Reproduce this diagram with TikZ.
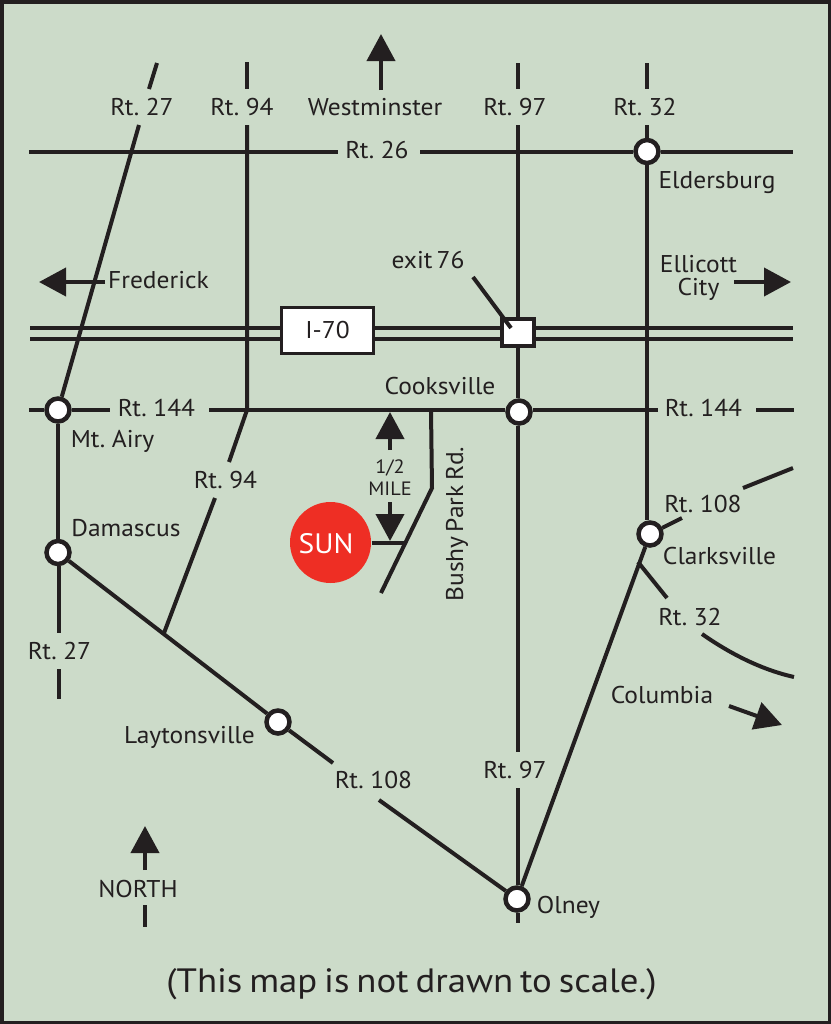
\documentclass[tikz,border=0pt]{standalone}
\usepackage{fontspec}
\setmainfont[FakeStretch=1.05,WordSpace=.62]{PT Sans}
\newfontfamily\notefont[FakeStretch=1.09,WordSpace=.7]{PT Sans}
\usetikzlibrary{arrows.meta}
\definecolor{mapgreen}{HTML}{CCDBC9}
\definecolor{mapdark}{HTML}{231F20}
\definecolor{mapred}{HTML}{EE2E24}
\newcommand{\lblfont}{\fontsize{6.9}{8}\selectfont}

\begin{document}
\begin{tikzpicture}[
  x=1cm, y=-1cm,
  every node/.style={inner sep=0pt},
  road/.style={draw=mapdark, line width=.04cm},
  lbl/.style={anchor=base, font=\lblfont, text=mapdark},
  smalllbl/.style={anchor=base, font=\fontsize{5.5}{6}\selectfont, text=mapdark},
  junction/.style={circle, draw=mapdark, fill=white, line width=.045cm, minimum size=.23cm},
  maparrow/.style={road, -{Triangle[length=.27cm,width=.28cm]}},
]
\useasboundingbox (0,0) rectangle (8.31,10.24);
\draw[draw=mapdark, fill=mapgreen, line width=.035cm] (.0175,.0175) rectangle (8.2925,10.2225);

% I-70 runs under its boxes
\coordinate (iaw) at (.30,3.28);
\coordinate (iae) at (7.93,3.28);
\coordinate (ibw) at (.30,3.39);
\coordinate (ibe) at (7.93,3.39);
\draw[road, line width=.035cm] (iaw) -- (iae);
\draw[road, line width=.035cm] (ibw) -- (ibe);

% Rt. 97 and the minor crossings under the exit box
\node[draw=mapdark, fill=white, line width=.035cm, minimum width=.92cm, minimum height=.46cm, font=\lblfont, text=mapdark] (ibox) at (3.275,3.305) {I-70};
\node[draw=mapdark, fill=white, line width=.04cm, minimum width=.32cm, minimum height=.27cm] (exitbox) at (5.18,3.325) {};

% Junctions
\node[junction] (airy) at (.58,4.10) {};
\node[junction] (damascus) at (.58,5.525) {};
\node[junction] (layton) at (2.78,7.22) {};
\node[junction] (olney) at (5.17,8.99) {};
\node[junction] (cooks) at (5.19,4.12) {};
\node[junction] (clarks) at (6.50,5.34) {};
\node[junction] (elders) at (6.47,1.515) {};
\node[circle, fill=mapred, minimum size=.81cm] (sun) at (3.305,5.425) {};
\node[anchor=base, font=\fontsize{8}{10}\selectfont, text=white] (sunlbl) at (3.26,5.53) {SUN};

% Rt. 26
\coordinate (r26w) at (.29,1.515);
\coordinate (r26m) at (3.38,1.515);
\coordinate (r26n) at (4.20,1.515);
\coordinate (r26e) at (7.93,1.515);
\draw[road] (r26w) -- (r26m);
\draw[road] (r26n) -- (elders);
\draw[road] (elders) -- (r26e);

% Rt. 144
\coordinate (r144w) at (.29,4.10);
\coordinate (r144a) at (1.10,4.10);
\coordinate (r144b) at (2.09,4.10);
\coordinate (r144c) at (6.58,4.10);
\coordinate (r144d) at (7.56,4.10);
\coordinate (r144e) at (7.94,4.10);
\draw[road] (r144w) -- (airy);
\draw[road] (airy) -- (r144a);
\draw[road] (r144b) -- (r144b -| cooks.west);
\draw[road] (r144c -| cooks.east) -- (r144c);
\draw[road] (r144d) -- (r144e);

% Rt. 27
\coordinate (r27a) at (1.57,.63);
\coordinate (r27b) at (1.49,.89);
\coordinate (r27c) at (1.39,1.25);
\coordinate (r27d) at (.59,6.33);
\coordinate (r27e) at (.59,6.69);
\coordinate (r27f) at (.59,6.99);
\draw[road] (r27a) -- (r27b);
\draw[road] (r27c) -- (airy);
\draw[road] (airy) -- (damascus);
\draw[road] (r27d |- damascus.south) -- (r27d);
\draw[road] (r27e) -- (r27f);

% Rt. 94
\coordinate (r94a) at (2.47,.62);
\coordinate (r94b) at (2.47,.89);
\coordinate (r94c) at (2.47,1.25);
\coordinate (r94k) at (2.47,4.10);
\coordinate (r94d) at (2.29,4.62);
\coordinate (r94e) at (2.15,4.98);
\coordinate (r94f) at (1.64,6.33);
\draw[road] (r94a) -- (r94b);
\draw[road] (r94c) -- (r94k) -- (r94d);
\draw[road] (r94e) -- (r94f);

% Rt. 97
\coordinate (r97a) at (5.18,.63);
\coordinate (r97b) at (5.18,.89);
\coordinate (r97c) at (5.18,1.25);
\coordinate (r97d) at (5.18,7.52);
\coordinate (r97e) at (5.18,7.88);
\coordinate (r97f) at (5.18,9.23);
\draw[road] (r97a) -- (r97b);
\draw[road] (r97c) -- (exitbox);
\draw[road] (exitbox) -- (exitbox |- cooks.north);
\draw[road] (r97d |- cooks.south) -- (r97d);
\draw[road] (r97e) -- (r97e |- olney.north);
\draw[road] (r97f |- olney.south) -- (r97f);

% Rt. 32
\coordinate (r32a) at (6.47,.63);
\coordinate (r32b) at (6.47,.89);
\coordinate (r32c) at (6.47,1.25);
\coordinate (r32d) at (6.38,5.62);
\coordinate (r32e) at (6.67,5.98);
\coordinate (r32f) at (7.02,6.34);
\coordinate (r32g) at (7.94,6.77);
\draw[road] (r32a) -- (r32b);
\draw[road] (r32c) -- (elders);
\draw[road] (elders) -- (elders |- clarks.north);
\draw[road] (r32d) -- (r32e);
\draw[road] (r32f) .. controls (7.32,6.55) and (7.63,6.70) .. (r32g);

% Rt. 108
\coordinate (r108a) at (6.82,5.18);
\coordinate (r108b) at (7.43,4.88);
\coordinate (r108c) at (7.93,4.68);
\coordinate (r108d) at (3.33,7.63);
\coordinate (r108e) at (3.79,8.00);
\draw[road] (clarks) -- (r108a);
\draw[road] (r108b) -- (r108c);
\draw[road] (clarks) -- (olney);
\draw[road] (damascus) -- (layton);
\draw[road] (layton) -- (r108d);
\draw[road] (r108e) -- (olney);

% Bushy Park Rd. and the stub to the dot
\coordinate (bushya) at (4.31,4.10);
\coordinate (bushyb) at (4.32,4.88);
\coordinate (bushyc) at (3.81,5.93);
\coordinate (bushys) at (4.05,5.425);
\draw[road] (bushya) -- (bushyb) -- (bushyc);
\draw[road] (sun) -- (bushys);

% Exit pointer
\coordinate (exita) at (4.73,2.77);
\coordinate (exitb) at (5.11,3.28);
\draw[road] (exita) -- (exitb);

% Direction arrows
\coordinate (westa) at (3.81,.90);
\coordinate (westb) at (3.81,.34);
\coordinate (freda) at (1.05,2.82);
\coordinate (fredb) at (.39,2.82);
\coordinate (ellia) at (7.34,2.82);
\coordinate (ellib) at (7.91,2.82);
\coordinate (cola) at (7.29,7.06);
\coordinate (colb) at (7.82,7.25);
\coordinate (norta) at (1.45,8.70);
\coordinate (nortb) at (1.45,8.26);
\coordinate (nortc) at (1.45,9.05);
\coordinate (nortd) at (1.45,9.27);
\draw[maparrow] (westa) -- (westb);
\draw[maparrow] (freda) -- (fredb);
\draw[maparrow] (ellia) -- (ellib);
\draw[maparrow] (cola) -- (colb);
\draw[maparrow] (norta) -- (nortb);
\draw[road] (nortc) -- (nortd);

% Half mile marker
\coordinate (milea) at (3.90,4.50);
\coordinate (mileb) at (3.90,4.12);
\coordinate (milec) at (3.90,5.02);
\coordinate (miled) at (3.90,5.41);
\draw[maparrow] (milea) -- (mileb);
\draw[maparrow] (milec) -- (miled);

% Labels
\node[lbl] (l27a) at (1.42,1.15) {Rt. 27};
\node[lbl] (l94a) at (2.42,1.15) {Rt. 94};
\node[lbl] (lwest) at (3.75,1.15) {Westminster};
\node[lbl] (l97a) at (5.15,1.15) {Rt. 97};
\node[lbl] (l32a) at (6.45,1.15) {Rt. 32};
\node[lbl] (l26) at (3.77,1.58) {Rt. 26};
\node[lbl] (lelders) at (7.17,1.88) {Eldersburg};
\node[lbl] (lfred) at (1.585,2.88) {Frederick};
\node[lbl] (lexit) at (4.28,2.68) {exit 76};
\node[lbl] (lelli) at (6.985,2.72) {Ellicott};
\node[lbl] (lcity) at (6.985,2.95) {City};
\node[lbl] (lcooks) at (4.40,3.94) {Cooksville};
\node[lbl] (l144a) at (1.565,4.16) {Rt. 144};
\node[lbl] (l144b) at (7.035,4.16) {Rt. 144};
\node[lbl] (lairy) at (1.125,4.47) {Mt. Airy};
\node[lbl] (l94b) at (2.255,4.88) {Rt. 94};
\node[lbl] (ldamascus) at (1.26,5.36) {Damascus};
\node[lbl] (l27b) at (.595,6.59) {Rt. 27};
\node[smalllbl] (lhalf) at (3.90,4.73) {1/2};
\node[smalllbl] (lmile) at (3.90,4.95) {MILE};
\node[lbl, anchor=base, rotate=90] (lbushy) at (4.63,5.24) {Bushy Park Rd.};
\node[lbl] (l108a) at (7.03,5.12) {Rt. 108};
\node[lbl] (lclarks) at (7.195,5.64) {Clarksville};
\node[lbl] (l32b) at (6.90,6.25) {Rt. 32};
\node[lbl] (lcolumbia) at (6.62,7.03) {Columbia};
\node[lbl] (l97b) at (5.15,7.78) {Rt. 97};
\node[lbl] (l108b) at (3.735,7.88) {Rt. 108};
\node[lbl] (llayton) at (1.895,7.43) {Laytonsville};
\node[lbl] (lolney) at (5.685,9.13) {Olney};
\node[lbl] (lnorth) at (1.38,8.97) {NORTH};
\node[anchor=base, font=\notefont\fontsize{9.6}{11}\selectfont, text=mapdark] (lnote) at (4.115,9.92) {(This map is not drawn to scale.)};

\end{tikzpicture}
\end{document}
